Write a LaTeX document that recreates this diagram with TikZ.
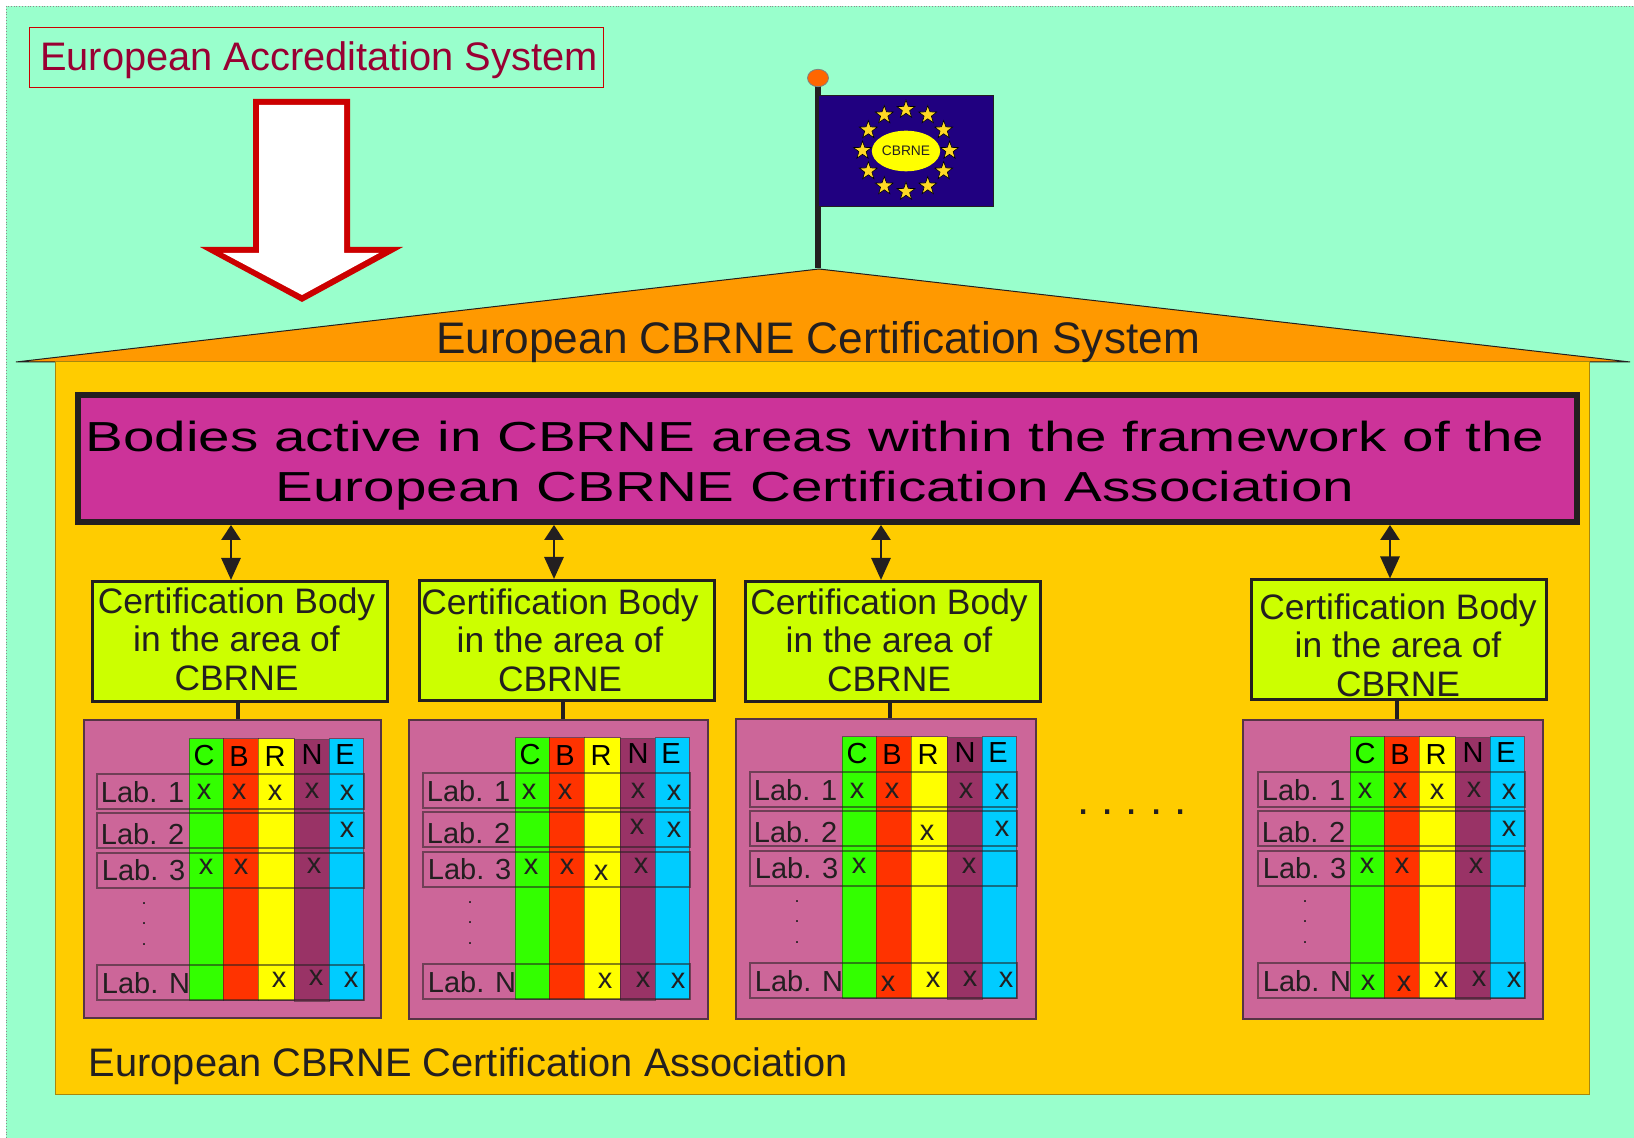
\documentclass[tikz,border=0pt]{standalone}
\usepackage{fontspec}
\usepackage{tikz}
\setmainfont{Liberation Sans}
\newfontfamily\widefont[FakeStretch=1.347]{Liberation Sans}
\definecolor{meadow}{RGB}{153,255,204}
\definecolor{house}{RGB}{255,204,0}
\definecolor{roof}{RGB}{255,153,0}
\definecolor{magentabox}{RGB}{204,51,153}
\definecolor{limebox}{RGB}{204,255,0}
\definecolor{panelpink}{RGB}{204,102,153}
\definecolor{ink}{RGB}{35,31,32}
\definecolor{wine}{RGB}{153,0,51}
\definecolor{signalred}{RGB}{204,0,0}
\definecolor{flagblue}{RGB}{32,0,128}
\definecolor{starry}{RGB}{255,217,38}
\definecolor{knob}{RGB}{255,102,0}
\definecolor{colC}{RGB}{51,255,0}
\definecolor{colB}{RGB}{255,51,0}
\definecolor{colR}{RGB}{255,255,0}
\definecolor{colN}{RGB}{153,51,102}
\definecolor{colE}{RGB}{0,204,255}
\usetikzlibrary{shapes.geometric,arrows.meta}
\tikzset{
    bodybox/.style={draw=ink,fill=limebox,line width=1.5pt,minimum width=147.5pt,minimum height=60pt,inner sep=0pt},
    bodytext/.style={text=ink,align=center,inner sep=0pt,font=\fontsize{17.7}{19.25}\selectfont},
    panelbox/.style={draw=ink!70!panelpink,fill=panelpink,line width=.6pt,inner sep=0pt},
    labtext/.style={text=ink,anchor=base west,inner sep=0pt,font=\fontsize{14.5}{16}\selectfont},
    marktext/.style={text=ink,inner sep=0pt,font=\fontsize{14.5}{16}\selectfont},
    dottext/.style={text=ink,inner sep=0pt,anchor=base,font=\fontsize{9}{10}\selectfont},
    headtext/.style={text=black,inner sep=0pt,font=\fontsize{14.5}{16}\selectfont},
    rowbox/.style={draw=ink,draw opacity=.55,line width=.6pt},
    colbox/.style={draw=ink,draw opacity=.5,line width=.5pt},
    bothlink/.style={draw=ink,line width=1.4pt,{Triangle[length=7.5pt,width=9.5pt]}-{Triangle[length=11pt,width=9.5pt]}},
    stublink/.style={draw=ink,line width=1.75pt},
    flagstar/.style={star,star points=5,star point ratio=2.5,draw=black,line width=.3pt,fill=starry,minimum size=9.5pt,inner sep=0pt}
}
\newcommand{\labtable}[4]{%
    \begin{scope}[shift={(#2,#3)},name prefix=#1-]
        \draw[colbox,fill=colC] (0,0) rectangle (34,261);
        \draw[colbox,fill=colB] (34,0) rectangle (69,261);
        \draw[colbox,fill=colR] (69,0) rectangle (105,261);
        \draw[colbox,fill=colN] (105,1) rectangle (140,262);
        \draw[colbox,fill=colE] (140,0) rectangle (174,261);
        \foreach \ltr/\lx/\ly in {C/15/17,B/50/18,R/86/18,N/123/16,E/156/16}
            \node[headtext] (head\ltr) at (\lx,\ly) {\ltr};
        \foreach \rtop/\rname/\rbase/\rleft in {35/1/63/-88.5,74/2/105/-88.5,114/3/141/-87.5,226/N/254/-87.5} {
            \draw[rowbox] (-92,\rtop) rectangle (175,\rtop+35);
            \node[labtext] (lab\rname) at (\rleft,\rbase) {Lab. \rname};
        }
        \foreach \dy [count=\k] in {165,185,206}
            \node[dottext] (dot\k) at (-45,\dy) {.};
        \foreach \mx/\my [count=\k] in {#4}
            \node[marktext] (x\k) at (\mx,\my) {x};
    \end{scope}
}

\begin{document}
\begin{tikzpicture}[x=.5pt,y=-.5pt]
        \useasboundingbox (0,0) rectangle (1634,1138);
        \draw[fill=meadow,draw=black!45,line width=.4pt,densely dotted] (6,6) rectangle (1640,1144);

        \node[draw=signalred,line width=.8pt,minimum width=287pt,minimum height=30pt,inner sep=0pt] (accred) at (316.5,57.5) {};
        \node[text=wine,inner sep=0pt,anchor=base,font=\fontsize{19.9}{22}\selectfont] (accredtext) at (319,71) {European Accreditation System};
        \fill[signalred] (253,99) -- (350,99) -- (350,247) -- (403,247) -- (302,302) -- (200,247) -- (253,247) -- cycle;
        \fill[white] (259,105) -- (344,105) -- (344,253) -- (379,253) -- (302,295) -- (223,253) -- (259,253) -- cycle;

        \draw[draw=ink,line width=.5pt,fill=roof] (16,362) -- (819,269) -- (1630,362) -- cycle;
        \draw[draw=ink!40!house,line width=.5pt,fill=house] (55,362) rectangle (1589,1094);
        \node[text=ink,inner sep=0pt,anchor=base,font=\fontsize{22.1}{24}\selectfont] (systemtext) at (818,354) {European CBRNE Certification System};

        \draw[ink,line width=3pt] (818,83) -- (818,268);
        \node[ellipse,draw=black!50,line width=.4pt,fill=knob,minimum width=10.5pt,minimum height=8.7pt,inner sep=0pt] (ball) at (818,78) {};
        \node[rectangle,draw=ink,line width=.4pt,fill=flagblue,minimum width=87.5pt,minimum height=55.5pt,inner sep=0pt] (flag) at (905.5,150.5) {};
        \node[ellipse,fill=colR,minimum width=30.7pt,minimum height=20.3pt,inner sep=0pt,text=ink,font=\fontsize{6.9}{8}\selectfont] (badge) at (906,151) {CBRNE};
        \foreach \a in {0,30,...,330}
            \node[flagstar] (star\a) at ({906+43.5*sin(\a)},{150.5-41*cos(\a)}) {};

        \node[draw=ink,fill=magentabox,line width=3pt,minimum width=749.5pt,minimum height=63.5pt,inner sep=0pt] (bodies) at (827.5,458.5) {};
        \node[text=black,align=center,inner sep=0pt,font=\widefont\fontsize{21}{25}\selectfont] (bodiestext) at (815,466) {Bodies active in CBRNE areas within the framework of the\\European CBRNE Certification Association};

        \node[bodybox] (body1) at (240,641.5) {};
        \node[bodybox] (body2) at (566.5,640.5) {};
        \node[bodybox] (body3) at (892.5,641.5) {};
        \node[bodybox] (body4) at (1398.5,640) {};
        \node[bodytext] (bodytext1) at (236.5,639) {Certification Body\\in the area of\\CBRNE};
        \node[bodytext] (bodytext2) at (560,640) {Certification Body\\in the area of\\CBRNE};
        \node[bodytext] (bodytext3) at (889,640) {Certification Body\\in the area of\\CBRNE};
        \node[bodytext] (bodytext4) at (1398,645) {Certification Body\\in the area of\\CBRNE};

        \node[panelbox,minimum width=148.5pt,minimum height=149pt] (panel1) at (232.5,869) {};
        \node[panelbox,minimum width=149.5pt,minimum height=149.5pt] (panel2) at (558.5,869.5) {};
        \node[panelbox,minimum width=150pt,minimum height=150pt] (panel3) at (886,869) {};
        \node[panelbox,minimum width=150pt,minimum height=149.5pt] (panel4) at (1393,869.5) {};

        \foreach \i/\ax/\bx in {1/231/238,2/554/563,3/881/890,4/1390/1397} {
            \draw[bothlink] (\ax,0 |- bodies.south) -- (\ax,0 |- body\i.north);
            \draw[stublink] (\bx,0 |- body\i.south) -- (\bx,0 |- panel\i.north);
        }

        \labtable{one}{189}{739}{15/53,50/53,86/54,123/52,158/54,158/91,17/128,52/128,125/127,90/241,127/239,162/241}
        \labtable{two}{515}{738}{14/54,50/54,123/53,159/55,122/89,159/92,16/129,52/129,86/135,126/128,90/243,128/242,163/243}
        \labtable{three}{842}{737}{15/54,50/54,124/54,160/55,85/96,160/92,17/129,127/129,46/247,91/243,128/242,164/243}
        \labtable{four}{1350}{737}{15/54,50/54,87/55,124/53,159/55,159/92,17/129,52/129,126/129,18/246,54/247,91/243,129/242,164/243}

        \node[text=ink,inner sep=0pt,anchor=base,font=\fontsize{22}{24}\selectfont] (moredots) at (1132,814) {.\hspace{6pt}.\hspace{6pt}.\hspace{6pt}.\hspace{6pt}.};
        \node[text=ink,inner sep=0pt,anchor=base west,font=\fontsize{19.9}{22}\selectfont] (assoctext) at (88.5,1076) {European CBRNE Certification Association};
    \end{tikzpicture}
\end{document}
